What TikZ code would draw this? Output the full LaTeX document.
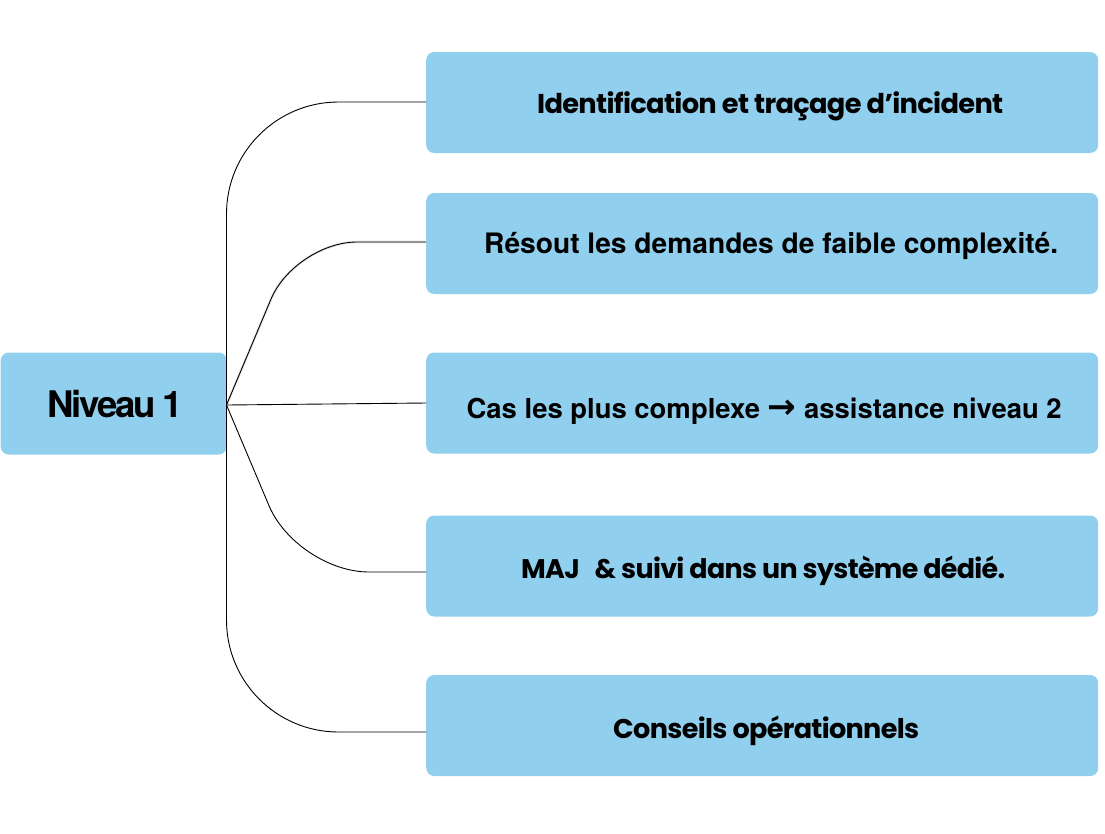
\documentclass[tikz,border=0pt]{standalone}
\usepackage{fontspec}
\setmainfont{Poppins}[LetterSpace=-2.5]
\newfontfamily\heros{TeX Gyre Heros}
\newfontfamily\herostight{TeX Gyre Heros}[LetterSpace=-6]
\newfontfamily\arrowfont{DejaVu Sans}
\usepackage{graphicx}
\definecolor{boxblue}{RGB}{145,207,238}
% #1 lowering of baseline, #2 width, #3 text
\newcommand{\fitw}[3]{\raisebox{-#1}[0pt][0pt]{\resizebox{#2}{!}{\bfseries #3}}}
\begin{document}
\begin{tikzpicture}[x=1pt,y=-1pt,
  itembox/.style={fill=boxblue, rounded corners=8pt, minimum width=672pt, minimum height=101pt, inner sep=0pt, anchor=west},
  rootbox/.style={fill=boxblue, rounded corners=8pt, minimum width=226pt, minimum height=102pt, inner sep=0pt, anchor=west},
  link/.style={draw=black, line width=0.9pt},
  linkshadow/.style={draw=black!10, line width=2.6pt}
]
\useasboundingbox (0,0) rectangle (1105,833);

\node[rootbox] (n1) at (0.5,403.5) {\hspace{3pt}\fitw{13.5pt}{135pt}{\herostight Niveau\,1}};
\node[itembox] (b1) at (426,102.5) {\hspace{16pt}\fitw{10.5pt}{466pt}{Identification et traçage d’incident}};
\node[itembox] (b2) at (426,243.5) {\hspace{18pt}\fitw{9.5pt}{574pt}{\heros Résout les demandes de faible complexité.}};
\node[itembox] (b3) at (426,403) {\hspace{4pt}\fitw{15pt}{595pt}{\heros Cas les plus complexe \scalebox{1.25}{\arrowfont →} assistance niveau 2}};
\node[itembox] (b4) at (426,566) {\hspace{2pt}\fitw{12pt}{484pt}{MAJ\hspace{0.55em}\& suivi dans un système dédié.}};
\node[itembox] (b5) at (426,725.5) {\hspace{8pt}\fitw{12.5pt}{306pt}{Conseils opérationnels}};

\coordinate (o) at (226.5,405);
\coordinate (c2) at (295,242);
\coordinate (c4) at (297,572);
\coordinate (y1) at (0,102);
\coordinate (y5) at (0,732);

\path[linkshadow, rounded corners=62pt, shift={(1.5pt,-2.5pt)}] (o) -- (c2) -- (b2.west |- c2);
\path[link, rounded corners=112pt] (o) |- (b1.west |- y1);
\path[link, rounded corners=62pt] (o) -- (c2) -- (b2.west |- c2);
\path[link] (o) -- (b3.west);
\path[link, rounded corners=72pt] (o) -- (c4) -- (b4.west |- c4);
\path[link, rounded corners=112pt] (o) |- (b5.west |- y5);
\end{tikzpicture}
\end{document}
